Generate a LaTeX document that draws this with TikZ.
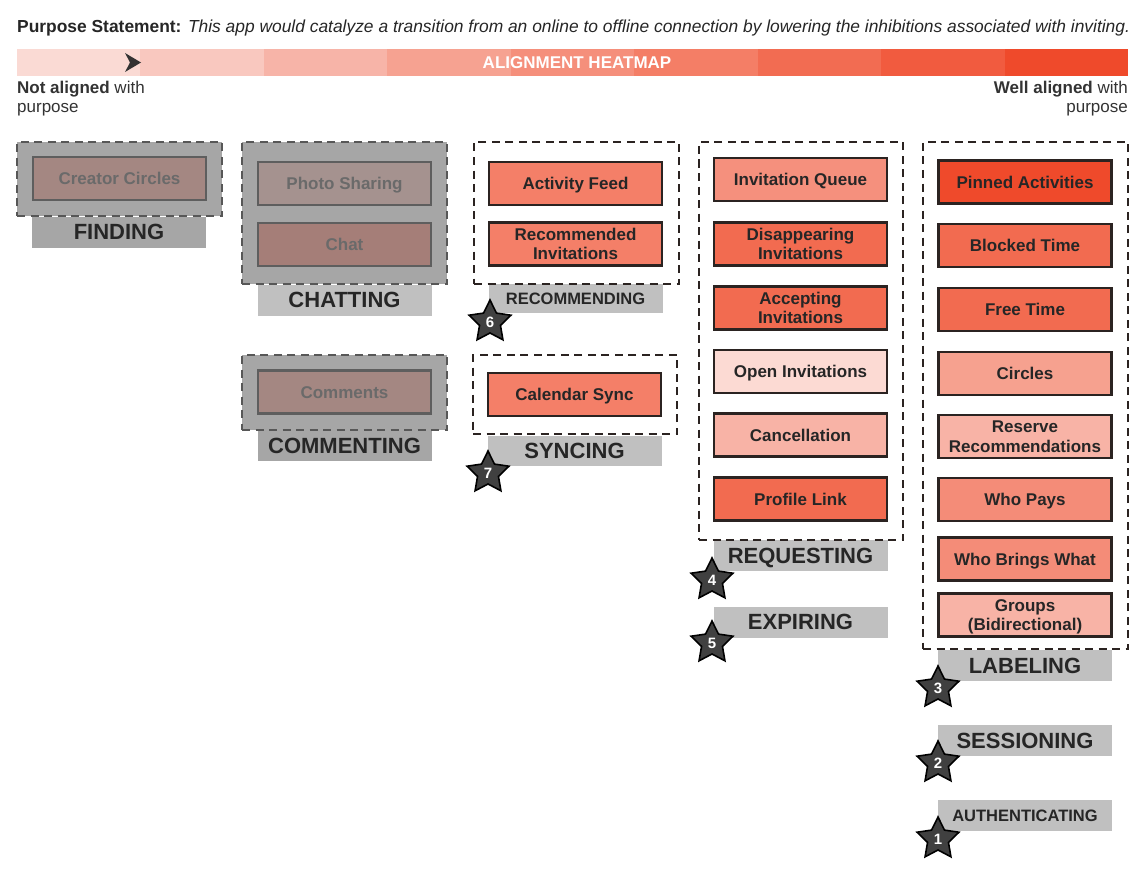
\documentclass[tikz,border=0pt]{standalone}
\usepackage{fontspec}
\setmainfont{Liberation Sans}
\usetikzlibrary{shapes.geometric}
\definecolor{textdark}{HTML}{262626}
\definecolor{textmid}{HTML}{333333}
\definecolor{featedge}{HTML}{2B2321}
\definecolor{gedge}{HTML}{5E5E5E}
\definecolor{gtext}{HTML}{6A6A6A}
\definecolor{ggrpfill}{HTML}{A6A6A6}
\definecolor{ggrpdraw}{HTML}{575757}
\definecolor{labdark}{HTML}{A6A6A6}
\definecolor{lablight}{HTML}{C0C0C0}
\definecolor{stargray}{HTML}{404040}
\definecolor{hA}{HTML}{F47F68}
\definecolor{hB}{HTML}{F26B50}
\definecolor{hP}{HTML}{EF4A2B}
\definecolor{hQ}{HTML}{F5907D}
\definecolor{hO}{HTML}{FCDAD3}
\definecolor{hC}{HTML}{F8B3A6}
\definecolor{hCi}{HTML}{F6A18F}
\definecolor{hW}{HTML}{F48C78}
\definecolor{gCC}{HTML}{A48782}
\definecolor{gPS}{HTML}{A5928F}
\definecolor{gCh}{HTML}{A57E78}
\definecolor{m1}{HTML}{FADAD4}
\definecolor{m2}{HTML}{F9C8BF}
\definecolor{m3}{HTML}{F7B4A8}
\definecolor{m4}{HTML}{F6A291}
\definecolor{m5}{HTML}{F58F7B}
\definecolor{m6}{HTML}{F47E66}
\definecolor{m7}{HTML}{F26C52}
\definecolor{m8}{HTML}{F15B3F}
\definecolor{m9}{HTML}{EF4A2B}
\tikzset{
  feat/.style={draw=featedge, line width=2.5pt, fill=#1, minimum width=173pt, minimum height=43pt,
    inner sep=0pt, text=textdark, align=center, font=\bfseries\fontsize{17}{19.5}\selectfont,
    text height=12.2pt, text depth=0pt},
  feattwo/.style={feat=#1, text height=31.7pt, text depth=0pt},
  gfeat/.style={feat=#1, draw=gedge, text=gtext},
  grp/.style={draw=featedge, dash pattern=on 8pt off 5.5pt, line width=2pt, inner sep=0pt},
  ggrp/.style={grp, draw=ggrpdraw, fill=ggrpfill},
  lab/.style={fill=#1, minimum width=174pt, minimum height=31pt, inner sep=0pt, text=textdark,
    font=\bfseries\fontsize{22}{24}\selectfont, text height=15.8pt, text depth=0pt},
  smalllab/.style={lab=#1, font=\bfseries\fontsize{16.5}{18}\selectfont, text height=11.8pt},
  starnode/.style={star, star points=5, star point ratio=2.0, minimum size=44pt, inner sep=0pt,
    fill=stargray, draw=black, line width=1.6pt, text=white, font=\bfseries\fontsize{15}{15}\selectfont,
    text height=10.7pt, text depth=0pt},
  sidetxt/.style={inner sep=0pt, text=textmid, font=\fontsize{17}{20}\selectfont},
}
\begin{document}
\begin{tikzpicture}[x=1pt,y=-1pt]
\useasboundingbox (0,0) rectangle (1145,872);
\fill[white] (0,0) rectangle (1145,872);
% title
\node[anchor=base west, inner sep=0pt, text=textdark, font=\fontsize{17.4}{19}\selectfont] (title) at (17,32.5)
  {\textbf{Purpose Statement:} \textit{This app would catalyze a transition from an online to offline connection by lowering the inhibitions associated with inviting.}};
% heatmap
\foreach \c [count=\i from 0] in {m1,m2,m3,m4,m5,m6,m7,m8,m9}{
  \fill[\c] ({17+\i*123.444},49) rectangle ({17+(\i+1)*123.444},76);
}
\fill[textmid] (125,53) -- (141,62.5) -- (125,72) -- (130,62.5) -- cycle;
\node[text=white, inner sep=0pt, font=\bfseries\fontsize{17}{18}\selectfont] (heat) at (577,63) {ALIGNMENT HEATMAP};
\node[sidetxt, anchor=base west] (notal) at (17,93.5) {\textbf{Not aligned} with};
\node[sidetxt, anchor=base west] (notal2) at (17,112.5) {purpose};
\node[sidetxt, anchor=base east] (wellal) at (1128,93.5) {\textbf{Well aligned} with};
\node[sidetxt, anchor=base east] (wellal2) at (1128,112.5) {purpose};

% FINDING
\node[lab=labdark] (lFind) at (119,232) {FINDING};
\node[ggrp, minimum width=205pt, minimum height=74pt] (gFind) at (119.5,179) {};
\node[gfeat=gCC] (fCC) at (119.5,178.5) {Creator Circles};

% CHATTING
\node[lab=lablight] (lChat) at (344.5,300) {CHATTING};
\node[ggrp, minimum width=205pt, minimum height=142pt] (gChat) at (344.5,213) {};
\node[gfeat=gPS] (fPS) at (344.5,183.5) {Photo Sharing};
\node[gfeat=gCh] (fCh) at (344.5,244.5) {Chat};

% COMMENTING
\node[lab=labdark] (lCom) at (344.5,445.5) {COMMENTING};
\node[ggrp, minimum width=205pt, minimum height=75pt] (gCom) at (344.5,392.5) {};
\node[gfeat=gCC] (fCm) at (344.5,392) {Comments};

% RECOMMENDING
\node[smalllab=lablight, minimum height=29pt] (lRec) at (575.5,298.5) {RECOMMENDING};
\node[grp, minimum width=205pt, minimum height=142pt] (gRec) at (576.5,213) {};
\node[feat=hA] (fAF) at (575.5,183.5) {Activity Feed};
\node[feattwo=hA] (fRI) at (575.5,244) {Recommended\\Invitations};
\node[starnode] (s6) at (490,322) {6};

% SYNCING
\node[lab=lablight, minimum height=30pt] (lSync) at (574.5,451) {SYNCING};
\node[grp, minimum width=204pt, minimum height=79pt] (gSync) at (575,394.5) {};
\node[feat=hA] (fCS) at (574.5,394.5) {Calendar Sync};
\node[starnode] (s7) at (488,473) {7};

% REQUESTING
\node[lab=lablight] (lReq) at (800.5,555.5) {REQUESTING};
\node[grp, minimum width=204pt, minimum height=398pt] (gReq) at (801,341) {};
\node[feat=hQ] (fIQ) at (800.5,179.5) {Invitation Queue};
\node[feattwo=hB] (fDI) at (800.5,244) {Disappearing\\Invitations};
\node[feattwo=hB] (fAI) at (800.5,308) {Accepting\\Invitations};
\node[feat=hO] (fOI) at (800.5,371.5) {Open Invitations};
\node[feat=hC] (fCa) at (800.5,435) {Cancellation};
\node[feat=hB] (fPL) at (800.5,499) {Profile Link};
\node[starnode] (s4) at (712,580) {4};
\node[lab=lablight] (lExp) at (800.5,622) {EXPIRING};
\node[starnode] (s5) at (712,643) {5};

% LABELING
\node[lab=lablight] (lLab) at (1025,665.5) {LABELING};
\node[grp, minimum width=205pt, minimum height=507pt] (gLab) at (1025.5,395.5) {};
\node[feat=hP] (fPA) at (1025,182) {Pinned Activities};
\node[feat=hB] (fBT) at (1025,245.5) {Blocked Time};
\node[feat=hB] (fFT) at (1025,309.5) {Free Time};
\node[feat=hCi] (fCi) at (1025,373.5) {Circles};
\node[feattwo=hC] (fRR) at (1025,436.5) {Reserve\\Recommendations};
\node[feat=hW] (fWP) at (1025,499.5) {Who Pays};
\node[feat=hW] (fWB) at (1025,559) {Who Brings What};
\node[feattwo=hC] (fGB) at (1025,615) {Groups\\(Bidirectional)};
\node[starnode] (s3) at (938,688) {3};
\node[lab=lablight] (lSes) at (1025,740.5) {SESSIONING};
\node[starnode] (s2) at (938,763) {2};
\node[smalllab=lablight] (lAut) at (1025,815.5) {AUTHENTICATING};
\node[starnode] (s1) at (938,839) {1};
\end{tikzpicture}
\end{document}
